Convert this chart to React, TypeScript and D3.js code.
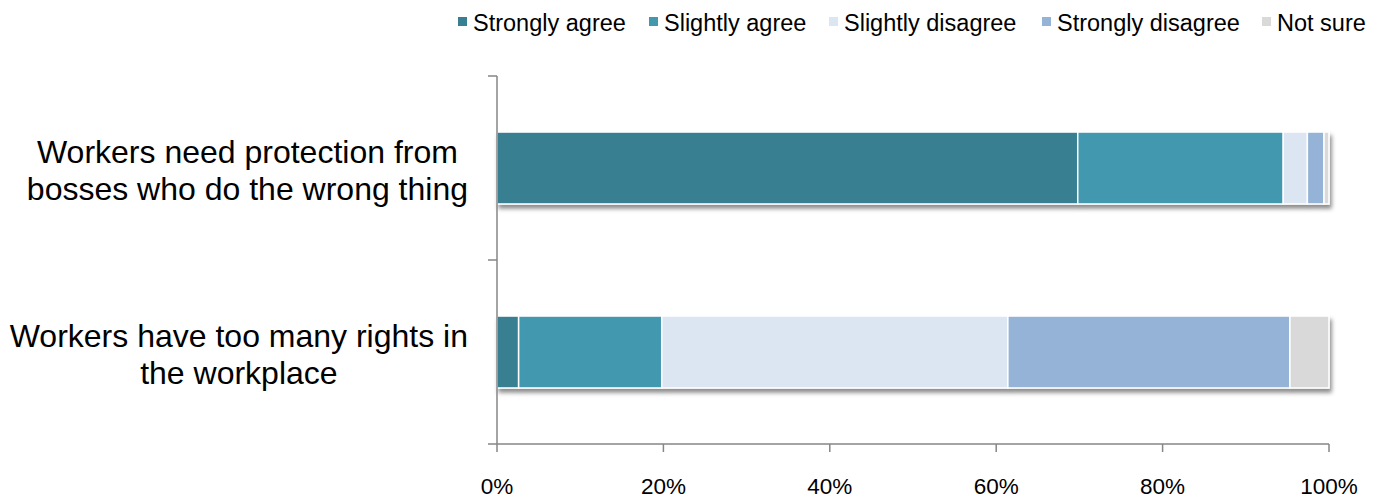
import React from "react";
import * as d3 from "d3";

const categories = ["protection", "rights"];
const categoryLines = [
  ["Workers need protection from", "bosses who do the wrong thing"],
  ["Workers have too many rights in", "the workplace"],
];
const seriesNames = ["Strongly agree", "Slightly agree", "Slightly disagree", "Strongly disagree", "Not sure"];
const stronglyAgree = [69.8, 2.6];
const slightlyAgree = [24.7, 17.2];
const slightlyDisagree = [2.9, 41.6];
const stronglyDisagree = [2.0, 33.9];
const notSure = [0.6, 4.7];
const xTicks = [0, 20, 40, 60, 80, 100];
const colors = ["#377f91", "#4398ae", "#dce6f2", "#95b3d7", "#d9d9d9"];

const W = 1383, H = 499;
const left = 497, right = 1329, top = 76, bottom = 444;
const FONT = "'Liberation Sans', Arial, sans-serif";
const catFontSize = 32;

function measure(text: string, size: number): number {
  try {
    const c = document.createElement("canvas").getContext("2d")!;
    c.font = `${size}px 'Liberation Sans', Arial, sans-serif`;
    return c.measureText(text).width;
  } catch (e) {
    return text.length * size * 0.5;
  }
}

export default function App() {
  const series = [stronglyAgree, slightlyAgree, slightlyDisagree, stronglyDisagree, notSure];
  const rows = categories.map((c, i) => {
    const o: any = { cat: c };
    seriesNames.forEach((s, j) => (o[s] = series[j][i]));
    return o;
  });
  const stack = d3.stack().keys(seriesNames)(rows);
  const x = d3.scaleLinear().domain([0, 100]).range([left, right]);
  const y = d3.scaleBand().domain(categories).range([top, bottom]).paddingInner(0.609).paddingOuter(0.3045);
  const step = y.step();

  const legendX = [458, 649, 829, 1042, 1262];

  return (
    <svg width={W} height={H} style={{ position: "absolute", left: 0, top: 0 }} fontFamily={FONT}>
      <defs>
        <filter id="sh" x="-5%" y="-20%" width="115%" height="160%">
          <feDropShadow dx="2" dy="4" stdDeviation="2" floodColor="#000" floodOpacity="0.45" />
        </filter>
      </defs>
      {/* legend */}
      {seriesNames.map((s, i) => (
        <g key={s} transform={`translate(${legendX[i]},0)`}>
          <rect x={0} y={17} width={9} height={9} fill={colors[i]} />
          <text x={15} y={31} fontSize={23.5} fill="#000">{s}</text>
        </g>
      ))}
      {/* bars */}
      {categories.map((c, ci) => (
        <g key={c} filter="url(#sh)">
          {stack.map((layer, li) => {
            const d = layer[ci];
            return (
              <rect key={li} x={x(d[0])} y={y(c)!} width={Math.max(0, x(d[1]) - x(d[0]))}
                height={y.bandwidth()} fill={colors[li]} stroke="#fff" strokeWidth={1.5} />
            );
          })}
        </g>
      ))}
      {/* axes */}
      <line x1={left} x2={left} y1={top} y2={bottom} stroke="#868686" strokeWidth={1.5} />
      <line x1={left} x2={right} y1={bottom} y2={bottom} stroke="#868686" strokeWidth={1.5} />
      {[0, 1, 2].map((k) => (
        <line key={k} x1={left - 9} x2={left} y1={top + k * step} y2={top + k * step} stroke="#868686" strokeWidth={1.5} />
      ))}
      {xTicks.map((t) => (
        <g key={t}>
          <line x1={x(t)} x2={x(t)} y1={bottom} y2={bottom + 8} stroke="#868686" strokeWidth={1.5} />
          <text x={x(t)} y={494} textAnchor="middle" fontSize={22.5} fill="#000">{t}%</text>
        </g>
      ))}
      {/* category labels: block right-aligned to axis, lines centered in block */}
      {categories.map((c, ci) => {
        const cy = y(c)! + y.bandwidth() / 2;
        const maxW = Math.max(...categoryLines[ci].map((ln) => measure(ln, catFontSize)));
        const cx = 468 - maxW / 2;
        return (
          <text key={c} fontSize={catFontSize} fill="#000" textAnchor="middle">
            {categoryLines[ci].map((ln, li) => (
              <tspan key={li} x={cx} y={cy - 5 + li * 37}>{ln}</tspan>
            ))}
          </text>
        );
      })}
    </svg>
  );
}
